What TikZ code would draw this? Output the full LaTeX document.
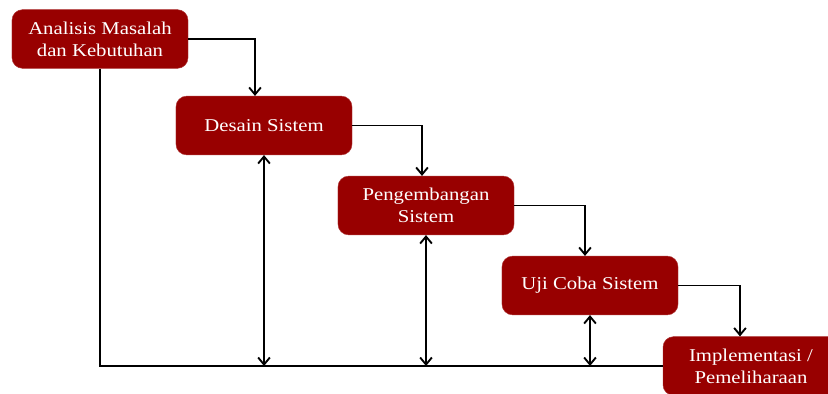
\documentclass[tikz,border=0pt]{standalone}
\usepackage{fontspec}
\setmainfont{Liberation Serif}[FakeStretch=1.15]
\usetikzlibrary{arrows.meta,positioning,calc}
\definecolor{boxred}{RGB}{152,0,0}

\begin{document}
\begin{tikzpicture}[
    x=0.03cm, y=-0.03cm,
    box/.style={fill=boxred, draw=boxred!80!white, rounded corners=9pt, minimum width=5.28cm, minimum height=1.76cm, align=center, text=white, font=\fontsize{15.4}{19}\selectfont},
    arr/.style={-{Straight Barb[length=6pt,width=10pt]}, line width=1.6pt},
    biarr/.style={{Straight Barb[length=6pt,width=10pt]}-{Straight Barb[length=6pt,width=10pt]}, line width=1.6pt},
    line/.style={line width=1.6pt}
]
\useasboundingbox (0,0) rectangle (828,394);
\node[box] (analisis) at (100,39) {Analisis Masalah\\dan Kebutuhan};
\node[box] (desain) at (264,125.5) {Desain Sistem};
\node[box] (pengembangan) at (426,205.5) {Pengembangan\\Sistem};
\node[box] (uji) at (590,285.5) {Uji Coba Sistem};
\node[box] (implementasi) at (751,366) {Implementasi /\\Pemeliharaan};

\draw[arr] (analisis.east) -| ([xshift=-0.27cm]desain.north);
\draw[arr] (desain.east) -| ([xshift=-0.12cm]pengembangan.north);
\draw[arr] (pengembangan.east) -| ([xshift=-0.15cm]uji.north);
\draw[arr] (uji.east) -| ([xshift=-0.33cm]implementasi.north);

\draw[line] (analisis.south) |- (implementasi.west);
\draw[biarr] (desain.south) -- (desain.south |- implementasi.west);
\draw[biarr] (pengembangan.south) -- (pengembangan.south |- implementasi.west);
\draw[biarr] (uji.south) -- (uji.south |- implementasi.west);
\end{tikzpicture}
\end{document}
